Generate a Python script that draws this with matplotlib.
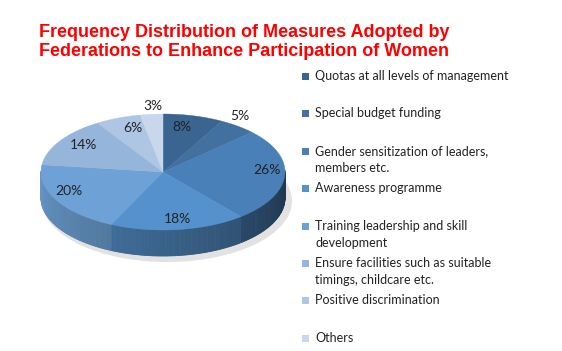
import numpy as np
import matplotlib.pyplot as plt
from matplotlib.patches import Polygon, Rectangle
from matplotlib.colors import to_rgb

labels = ['Quotas at all levels of management',
          'Special budget funding',
          'Gender sensitization of leaders,\nmembers etc.',
          'Awareness programme',
          'Training leadership and skill\ndevelopment',
          'Ensure facilities such as suitable\ntimings, childcare etc.',
          'Positive discrimination',
          'Others']
values = [8, 5, 26, 18, 20, 14, 6, 3]
colors = ['#3b6591', '#42709f', '#4a80b8', '#5592cd', '#6ea2d6',
          '#95b5db', '#aec5e3', '#c8d7eb']
label_pos = [(182, 127), (240, 116), (267, 170), (177, 219),
             (69, 191), (84, 145), (133, 128), (153, 106)]
legend_y = [77, 114, 152, 189, 227, 264, 301, 339]

W, H = 562, 351
fig = plt.figure(figsize=(W / 100, H / 100), dpi=100)
ax = fig.add_axes([0, 0, 1, 1])
ax.set_xlim(0, W)
ax.set_ylim(H, 0)
ax.axis('off')

cx, cy, a, b, depth = 163, 172, 122, 58, 26


def pt(t):
    return cx + a * np.cos(t), cy - b * np.sin(t)


# faint shadow
sh = np.linspace(0, 2 * np.pi, 200)
ax.fill(cx + 4 + (a + 3) * np.cos(sh), cy + depth + 3 + (b + 3) * np.sin(sh),
        color='#e2e2e2', zorder=0, lw=0)

# start at top (90 deg), go clockwise
bounds = 90 - np.cumsum([0] + values) * 3.6
bounds = np.radians(bounds)

# side wall, thin strips with shading
for i in range(len(values)):
    t1, t2 = bounds[i], bounds[i + 1]
    ts = np.linspace(t1, t2, 80)
    base = np.array(to_rgb(colors[i]))
    for j in range(len(ts) - 1):
        tm = (ts[j] + ts[j + 1]) / 2
        if np.sin(tm) > 0.02:
            continue
        ang = np.degrees(tm) % 360
        frac = np.clip((ang - 180) / 180, 0, 1)
        shade = 0.92 - 0.5 * frac
        c = np.clip(base * shade, 0, 1)
        x1, y1 = pt(ts[j])
        x2, y2 = pt(ts[j + 1])
        poly = [(x1, y1), (x2, y2), (x2, y2 + depth), (x1, y1 + depth)]
        ax.add_patch(Polygon(poly, closed=True, fc=c, ec=c, lw=0.6, zorder=1))

# top face
for i in range(len(values)):
    ts = np.linspace(bounds[i], bounds[i + 1], 100)
    xs, ys = pt(ts)
    poly = [(cx, cy)] + list(zip(xs, ys))
    ax.add_patch(Polygon(poly, closed=True, fc=colors[i], ec=colors[i],
                         lw=0.3, zorder=2))

for v, (x, y) in zip(values, label_pos):
    ax.text(x, y, f'{v}%', ha='center', va='center', fontsize=10,
            family='Lato', color='#222222', zorder=3)

# legend
for lab, c, y in zip(labels, colors, legend_y):
    ax.add_patch(Rectangle((302, y - 4), 7, 7, fc=c, ec='none', zorder=3))
    ax.text(315, y - 7, lab, ha='left', va='top', fontsize=9,
            family='Lato', color='#222222', linespacing=1.5)

ax.text(244, 42, 'Frequency Distribution of Measures Adopted by\n'
        'Federations to Enhance Participation of Women',
        ha='center', va='center', fontsize=13, fontweight='bold',
        family='Liberation Sans', color='#ff0000', linespacing=1.15)

fig.savefig('out.png', dpi=100)
